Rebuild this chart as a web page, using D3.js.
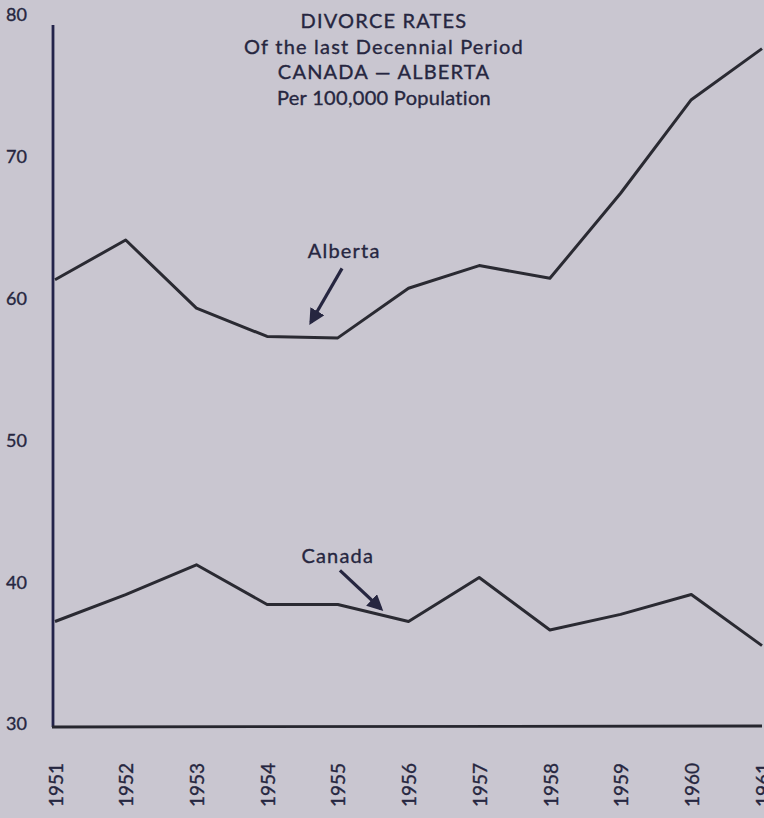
<!DOCTYPE html>
<html>
<head>
<meta charset="utf-8">
<script src="https://cdn.jsdelivr.net/npm/d3@7"></script>
<style>
  html, body { margin: 0; padding: 0; background: #c9c6d0; }
  svg { display: block; font-family: Lato, "Noto Sans", sans-serif; }
</style>
</head>
<body>
<div id="container"></div>
<script>
const years = [1951, 1952, 1953, 1954, 1955, 1956, 1957, 1958, 1959, 1960, 1961]
const alberta = [61.4, 64.2, 59.4, 57.4, 57.3, 60.8, 62.4, 61.5, 67.5, 74.1, 77.7]
const canada = [37.3, 39.2, 41.3, 38.5, 38.5, 37.3, 40.4, 36.7, 37.8, 39.2, 35.6]
const yTicks = [30, 40, 50, 60, 70, 80]
const titleLines = ["DIVORCE RATES", "Of the last Decennial Period", "CANADA \u2014 ALBERTA", "Per 100,000 Population"]
// label position and arrow (from -> to), in data units
const notes = [
    {name: "Alberta", label: [1955.09, 63.4], from: [1955.06, 62.2], to: [1954.62, 58.4]},
    {name: "Canada", label: [1955.0, 41.9], from: [1955.03, 40.9], to: [1955.61, 38.2]}
]

const width = 764
const height = 818
const ink = "#262640"

const x = d3.scaleLinear().domain([1951, 1961]).range([55, 762])
const y = d3.scaleLinear().domain([30, 80]).range([725, 16])

const svg = d3.select("#container")
    .append("svg")
    .attr("width", width)
    .attr("height", height)

svg.append("defs").append("marker")
    .attr("id", "head")
    .attr("viewBox", "0 0 10 10")
    .attr("refX", 8)
    .attr("refY", 5)
    .attr("markerWidth", 5)
    .attr("markerHeight", 5)
    .attr("markerUnits", "strokeWidth")
    .attr("orient", "auto")
    .append("path")
    .attr("d", "M0,0L10,5L0,10Z")
    .attr("fill", ink)

// axes
svg.append("line")
    .attr("x1", x(1951) - 2).attr("x2", x(1951) - 2)
    .attr("y1", 25).attr("y2", y(30) + 2)
    .attr("stroke", "#23234a")
    .attr("stroke-width", 2.8)

svg.append("line")
    .attr("x1", x(1951) - 3).attr("x2", x(1961))
    .attr("y1", y(30) + 2).attr("y2", y(30) + 1)
    .attr("stroke", "#26262e")
    .attr("stroke-width", 2.8)

// all text a touch heavier, like the printed original
const text = sel => sel
    .attr("fill", ink)
    .attr("stroke", ink)
    .attr("stroke-width", 0.35)

svg.append("g")
    .selectAll("text")
    .data(yTicks)
    .join("text")
    .attr("x", 6)
    .attr("y", d => y(d) - 1)
    .attr("dy", "0.35em")
    .attr("font-size", 18)
    .text(d => d)
    .call(text)

svg.append("g")
    .selectAll("text")
    .data(years)
    .join("text")
    .attr("transform", d => `translate(${x(d) + 1},785) rotate(-90)`)
    .attr("text-anchor", "middle")
    .attr("dy", "0.35em")
    .attr("font-size", 19)
    .text(d => d)
    .call(text)

// title
svg.append("g")
    .selectAll("text")
    .data(titleLines)
    .join("text")
    .attr("x", 384)
    .attr("y", (d, i) => 21 + i * 25.5)
    .attr("dy", "0.35em")
    .attr("text-anchor", "middle")
    .attr("font-size", 20)
    .attr("letter-spacing", (d, i) => i === 3 ? 0.3 : 1.2)
    .text(d => d)
    .call(text)

// series lines
const line = d3.line()
    .x((d, i) => x(years[i]))
    .y(d => y(d))

svg.append("g")
    .attr("fill", "none")
    .attr("stroke", "#2a2a32")
    .attr("stroke-width", 3)
    .attr("stroke-linejoin", "round")
    .selectAll("path")
    .data([alberta, canada])
    .join("path")
    .attr("d", line)

// annotations
const note = svg.append("g")
    .selectAll("g")
    .data(notes)
    .join("g")

note.append("text")
    .attr("x", d => x(d.label[0]))
    .attr("y", d => y(d.label[1]))
    .attr("dy", "0.35em")
    .attr("text-anchor", "middle")
    .attr("font-size", 20)
    .attr("letter-spacing", 1.2)
    .text(d => d.name)
    .call(text)

note.append("line")
    .attr("x1", d => x(d.from[0]))
    .attr("y1", d => y(d.from[1]))
    .attr("x2", d => x(d.to[0]))
    .attr("y2", d => y(d.to[1]))
    .attr("stroke", ink)
    .attr("stroke-width", 3.2)
    .attr("marker-end", "url(#head)")
</script>
</body>
</html>
